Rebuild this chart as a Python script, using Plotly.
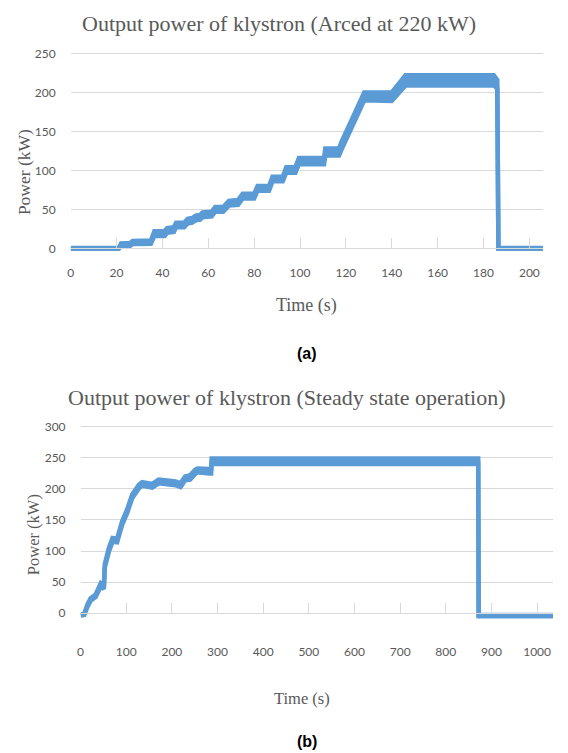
import plotly.graph_objects as go

# ---------------- (a) Output power, arced at 220 kW ----------------
time_a = [0, 21, 22, 26, 27, 35, 36.5, 41, 42, 45, 46, 49.5, 51, 53, 54.5, 56.5,
          57.5, 61.5, 63, 66.5, 69, 73, 75, 80, 81.5, 86.5, 88, 92.5, 94, 98,
          99.5, 110.5, 111, 117, 118, 128, 140, 146, 184.5, 186, 186.5, 206]
low_a = [-0.6, -0.6, 3.5, 3.5, 5.5, 6, 16, 16, 20, 21, 27, 27, 32, 33, 36, 37,
         40, 41, 47, 47, 55, 56, 64, 64, 74, 74, 86, 86, 97, 97,
         108, 108, 119, 119, 126, 190, 189, 209, 209, 205, -0.6, -0.6]
high_a = [0.6, 0.6, 6.5, 7, 9.5, 10, 22, 22, 26, 27, 33, 33, 38, 39, 42, 43,
          46, 47, 53, 53, 61, 62, 70, 70, 80, 80, 92, 92, 104, 104,
          116, 116, 128, 128, 136, 200, 200, 222, 222, 216, 0.6, 0.6]
x_ticks_a = list(range(0, 201, 20))
y_ticks_a = list(range(0, 251, 50))

# ---------------- (b) Output power, steady state ----------------
time_b = [0, 8, 15, 22, 33, 44, 51, 53, 62, 70, 80, 91, 102, 113, 128, 135, 157,
          171, 208, 219, 229, 240, 251, 256, 282, 286, 287, 871, 872, 1035]
low_b = [-4, -3, 10, 20, 26, 43, 39, 73, 99, 115, 114, 142, 161, 185, 201, 205, 202,
         209, 206, 203, 214, 215, 224, 227, 225, 225, 240, 240, -5, -5]
high_b = [-2, -1, 14, 24, 30, 48, 43, 79, 105, 121, 120, 148, 167, 191, 207, 211, 208,
          215, 212, 209, 220, 222, 231, 233, 232, 232, 249, 249, -3, -3]
x_ticks_b = list(range(0, 1001, 100))
y_ticks_b = list(range(0, 301, 50))

BLUE = "#5B9BD5"
GRID = "#D9D9D9"
TXT = "#595959"
SERIF = "Liberation Serif, Times New Roman, serif"
SANS = "Lato, Open Sans, sans-serif"
W, H = 568, 753


def band(fig, t, lo, hi, xa, ya, width):
    fig.add_trace(go.Scatter(x=t, y=lo, mode="lines", line=dict(color=BLUE, width=width),
                             xaxis=xa, yaxis=ya, hoverinfo="skip"))
    fig.add_trace(go.Scatter(x=t, y=hi, mode="lines", line=dict(color=BLUE, width=width),
                             fill="tonexty", fillcolor=BLUE,
                             xaxis=xa, yaxis=ya, hoverinfo="skip"))


fig = go.Figure()
band(fig, time_a, low_a, high_a, "x", "y", 4.5)
band(fig, time_b, low_b, high_b, "x2", "y2", 4.5)

# plot areas in pixels (left, right, top, bottom)
area_a = (68, 543, 45.4, 250.3)
area_b = (78, 553, 423.1, 618.9)
yr_a = [-8, 252]
yr_b = [-10, 302]


def dom_x(a):
    return [a[0] / W, a[1] / W]


def dom_y(a):
    return [(H - a[3]) / H, (H - a[2]) / H]


def zero_pos(dom, rng):
    return dom[0] + (0 - rng[0]) / (rng[1] - rng[0]) * (dom[1] - dom[0])


tick_font = dict(family=SANS, size=12, color=TXT)

xcommon = dict(anchor="free", ticks="inside", ticklen=10, tickwidth=1, tickcolor=GRID,
               showline=True, linecolor=GRID, linewidth=1, showgrid=False,
               zeroline=False, tickfont=tick_font)
ycommon = dict(showgrid=True, gridcolor=GRID, gridwidth=1, zeroline=False,
               showline=False, ticks="", tickfont=tick_font, ticklabelstandoff=14)

dya, dyb = dom_y(area_a), dom_y(area_b)

fig.update_layout(
    width=W, height=H, margin=dict(l=0, r=0, t=0, b=0),
    paper_bgcolor="white", plot_bgcolor="white", showlegend=False,
    xaxis=dict(domain=dom_x(area_a), range=[0, 206], tickvals=x_ticks_a,
               position=zero_pos(dya, yr_a), ticklabelstandoff=13, **xcommon),
    yaxis=dict(domain=dya, range=yr_a, tickvals=y_ticks_a, anchor="x", **ycommon),
    xaxis2=dict(domain=dom_x(area_b), range=[0, 1035], tickvals=x_ticks_b,
                position=zero_pos(dyb, yr_b), ticklabelstandoff=27, **xcommon),
    yaxis2=dict(domain=dyb, range=yr_b, tickvals=y_ticks_b, anchor="x2", **ycommon),
)


def label(text, x, y, size, family=SERIF, color=TXT, angle=0, bold=False):
    if bold:
        text = "<b>" + text + "</b>"
    fig.add_annotation(text=text, xref="paper", yref="paper", x=x / W, y=(H - y) / H,
                       xanchor="center", yanchor="middle", showarrow=False,
                       textangle=angle, font=dict(family=family, size=size, color=color))


label("Output power of klystron (Arced at 220 kW)", 277.5, 17, 22)
label("Power (kW)", 21, 167, 17.5, angle=-90)
label("Time (s)", 305, 302, 18)
label("(a)", 306, 350, 16, family="Liberation Sans, Arial, sans-serif", color="black", bold=True)

label("Output power of klystron (Steady state operation)", 285, 395, 22)
label("Power (kW)", 30, 533, 16.5, angle=-90)
label("Time (s)", 301, 699, 16.5)
label("(b)", 306, 742, 16, family="Liberation Sans, Arial, sans-serif", color="black", bold=True)

fig.write_html("out.html")
